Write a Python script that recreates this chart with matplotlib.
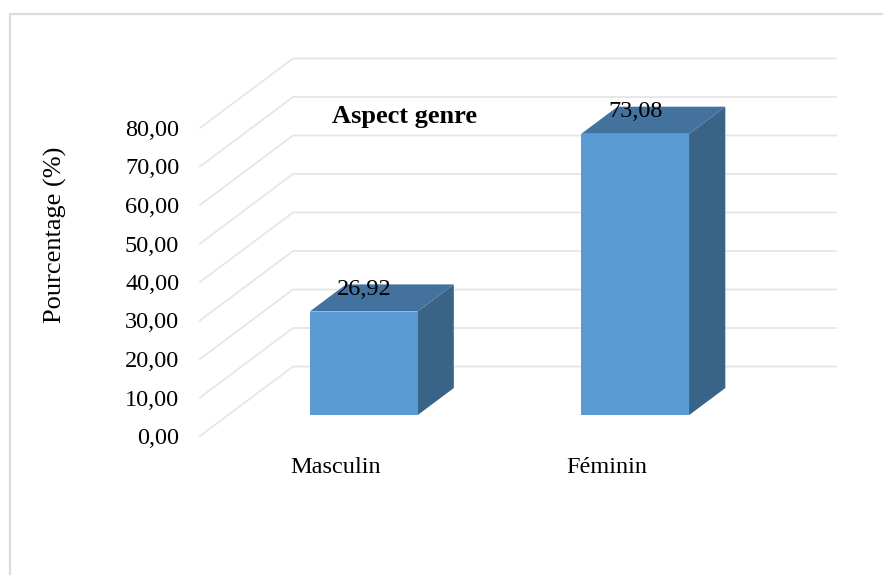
import matplotlib
matplotlib.use("Agg")
import matplotlib.pyplot as plt
from matplotlib.patches import Polygon

categories = ["Masculin", "Féminin"]
values = [26.92, 73.08]
value_labels = ["26,92", "73,08"]
y_ticks = [0, 10, 20, 30, 40, 50, 60, 70, 80]
y_tick_labels = ["0,00", "10,00", "20,00", "30,00", "40,00", "50,00", "60,00", "70,00", "80,00"]

W, H = 883, 575
plt.rcParams["font.family"] = ["Liberation Serif", "DejaVu Serif"]

fig = plt.figure(figsize=(W / 100, H / 100), dpi=100)

# page frame, only top and left are visible in the source
frame = fig.add_axes([0, 0, 1, 1])
frame.set_xlim(0, W)
frame.set_ylim(H, 0)
frame.axis("off")
frame.plot([10, 10, 883], [H, 14, 14], color="#dcdcdc", lw=1.6)

# axes placed so y=0 / y=80 and the two categories land on the front plane
ax = fig.add_axes([200 / W, 1 - 436 / H, 543 / W, 308 / H])
ax.set_xlim(-0.5, 1.5)
ax.set_ylim(0, 80)
ax.patch.set_alpha(0)
for s in ax.spines.values():
    s.set_visible(False)

# fake 3d: depth goes right and up
depth_x = 93 / 271.5
depth_y = 18.05
bar_width = 0.397
bar_front = 0.30
bar_back = 0.69


def project(x, y, d):
    return x + d * depth_x, y + d * depth_y


for t in y_ticks:
    xa, ya = project(-0.5, t, 0)
    xb, yb = project(-0.5, t, 1)
    xc, yc = project(1.5, t, 1)
    ax.plot([xa, xb, xc], [ya, yb, yc], color="#e6e6e6", lw=1.3, clip_on=False, zorder=1)

for i, v in enumerate(values):
    x0 = i - bar_width / 2
    x1 = i + bar_width / 2
    front = [project(x0, 0, bar_front), project(x1, 0, bar_front),
             project(x1, v, bar_front), project(x0, v, bar_front)]
    top = [project(x0, v, bar_front), project(x1, v, bar_front),
           project(x1, v, bar_back), project(x0, v, bar_back)]
    side = [project(x1, 0, bar_front), project(x1, 0, bar_back),
            project(x1, v, bar_back), project(x1, v, bar_front)]
    ax.add_patch(Polygon(side, facecolor="#3a6388", edgecolor="none", clip_on=False, zorder=2))
    ax.add_patch(Polygon(top, facecolor="#44729f", edgecolor="none", clip_on=False, zorder=2))
    ax.add_patch(Polygon(front, facecolor="#5b9bd5", edgecolor="none", clip_on=False, zorder=3))
    lx, ly = project(i, v, bar_back)
    ax.text(lx - 0.132, ly - 1.3, value_labels[i], ha="center", va="center",
            fontsize=17.5, color="black", zorder=4, clip_on=False)

ax.set_yticks(y_ticks)
ax.set_yticklabels(y_tick_labels, fontsize=17.5)
ax.set_xticks(range(len(categories)))
ax.set_xticklabels(categories, fontsize=17.5)
ax.tick_params(axis="y", length=0, pad=15)
ax.tick_params(axis="x", length=0, pad=15)

fig.text(55 / W, 1 - 235 / H, "Pourcentage (%)", rotation=90, ha="center", va="center", fontsize=19)
fig.text(404 / W, 1 - 117 / H, "Aspect genre", ha="center", va="center", fontsize=19, fontweight="bold")

fig.savefig("out.png", dpi=100)
plt.close(fig)
